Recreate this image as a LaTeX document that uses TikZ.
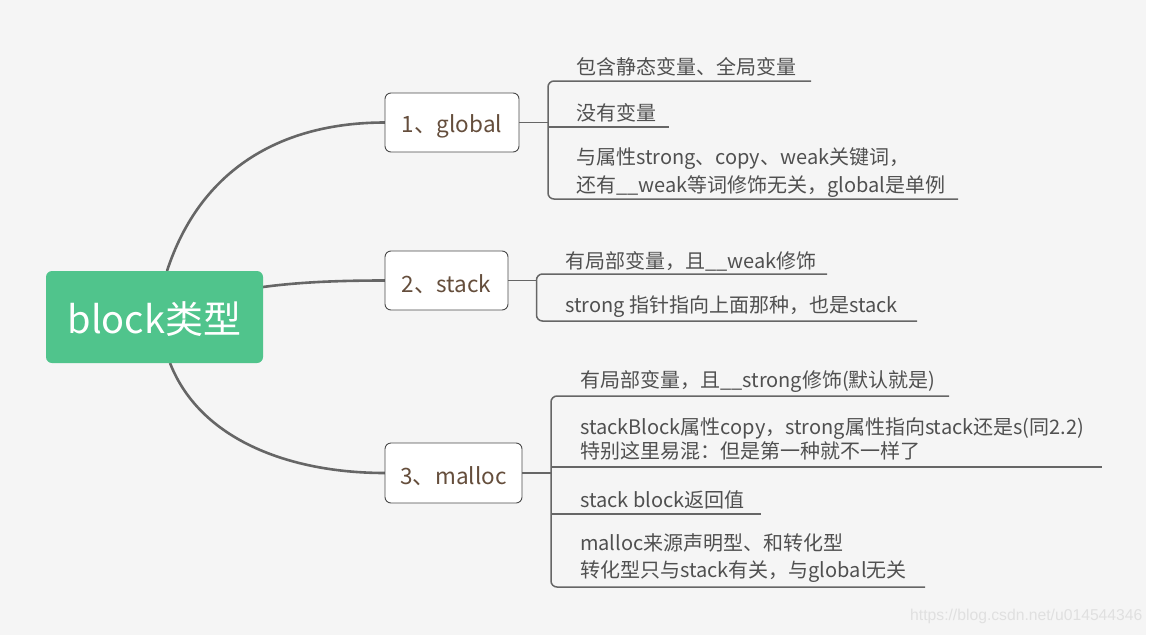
\documentclass[tikz,border=0pt]{standalone}
\usepackage{fontspec}
\setmainfont{Noto Sans CJK SC}
\newfontfamily\wmfont{Liberation Sans}
\definecolor{bgc}{HTML}{F5F5F5}
\definecolor{rootgreen}{HTML}{50C48C}
\definecolor{topictext}{HTML}{654E3C}
\definecolor{boxline}{HTML}{4A4A4A}
\definecolor{linec}{HTML}{666666}
\definecolor{leaftext}{HTML}{505050}
\definecolor{wmc}{HTML}{E0E0E0}
\newcommand{\lowtxt}[1]{\raisebox{-3.5pt}[\height][\depth]{#1}}
\tikzset{
  rootbox/.style={fill=rootgreen, rounded corners=6pt, text=white, inner sep=0pt,
    font=\fontsize{38}{42}\selectfont},
  topic/.style={draw=boxline, line width=0.9pt, fill=white, rounded corners=6pt,
    text=topictext, inner sep=0pt, font=\fontsize{22.5}{26}\selectfont},
  branch/.style={draw=linec, line width=2.6pt},
  stem/.style={draw=linec, line width=1.6pt},
  leafline/.style={draw=linec, line width=1.5pt, rounded corners=6pt},
  leaf/.style={anchor=west, inner sep=0pt, text=leaftext, align=left,
    font=\fontsize{20}{28}\selectfont},
}
\begin{document}
\begin{tikzpicture}[x=1pt,y=-1pt]
\useasboundingbox (0,0) rectangle (1153,635);
\fill[white] (0,0) rectangle (1153,635);
\fill[bgc] (0,0) rectangle (1146,635);

% main branches (drawn first, boxes cover their ends)
\coordinate (rtop) at (167,271);
\coordinate (rright) at (263,287);
\coordinate (rbot) at (170,363);
\coordinate (gw) at (385,122.5);
\coordinate (sw) at (385,280.5);
\coordinate (mw) at (385,473);
\draw[branch] (rtop) .. controls (200,170) and (280,122.5) .. (gw);
\draw[branch] (rright) .. controls (300,282) and (340,280.5) .. (sw);
\draw[branch] (rbot) .. controls (200,440) and (290,473) .. (mw);

% main nodes
\node[rootbox, minimum width=217pt, minimum height=92pt] (root) at (154.5,317) {\raisebox{-2pt}[\height][\depth]{block类型}};
\node[topic, minimum width=134pt, minimum height=59pt] (g) at (452,122.5) {\lowtxt{1、global}};
\node[topic, minimum width=123pt, minimum height=59pt] (s) at (446.5,280.5) {\lowtxt{2、stack}};
\node[topic, minimum width=137pt, minimum height=60pt] (m) at (453.5,473) {\lowtxt{3、malloc}};

% global leaves
\coordinate (gb) at (548,122.5);
\node[leaf] (g1) at (576,67) {包含静态变量、全局变量};
\node[leaf] (g2) at (576,113) {没有变量};
\node[leaf, font=\fontsize{20}{28.5}\selectfont] (g3) at (576,172.5) {与属性strong、copy、weak关键词，\\还有\_\_weak等词修饰无关，global是单例};
\draw[stem] (g.east) -- (gb);
\draw[leafline] (811,81) -- (548,81) -- (548,199) -- (958,199);
\draw[leafline] (548,127) -- (669,127);

% stack leaves
\coordinate (sb) at (536.5,280.5);
\node[leaf] (s1) at (565,261) {有局部变量，且\_\_weak修饰};
\node[leaf] (s2) at (565,307) {strong 指针指向上面那种，也是stack};
\draw[stem] (s.east) -- (sb);
\draw[leafline] (827,274) -- (536.5,274) -- (536.5,321) -- (917,321);

% malloc leaves
\coordinate (mb) at (551,473);
\node[leaf] (m1) at (580,382) {有局部变量，且\_\_strong修饰(默认就是)};
\node[leaf, font=\fontsize{20}{24}\selectfont] (m2) at (580,438.5) {stackBlock属性copy，strong属性指向stack还是s(同2.2)\\特别这里易混：但是第一种就不一样了};
\node[leaf] (m3) at (580,500) {stack block返回值};
\node[leaf, font=\fontsize{20}{27}\selectfont] (m4) at (580,558.5) {malloc来源声明型、和转化型\\转化型只与stack有关，与global无关};
\draw[stem] (m.east) -- (mb);
\draw[leafline] (949,396) -- (551,396) -- (551,587) -- (925,587);
\draw[leafline] (551,467) -- (1102,467);
\draw[leafline] (551,514) -- (761,514);

% watermark
\node[anchor=west, inner sep=0pt, text=wmc, font=\wmfont\fontsize{15.7}{18}\selectfont] (wm) at (910,616) {https://blog.csdn.net/u014544346};
\end{tikzpicture}
\end{document}
